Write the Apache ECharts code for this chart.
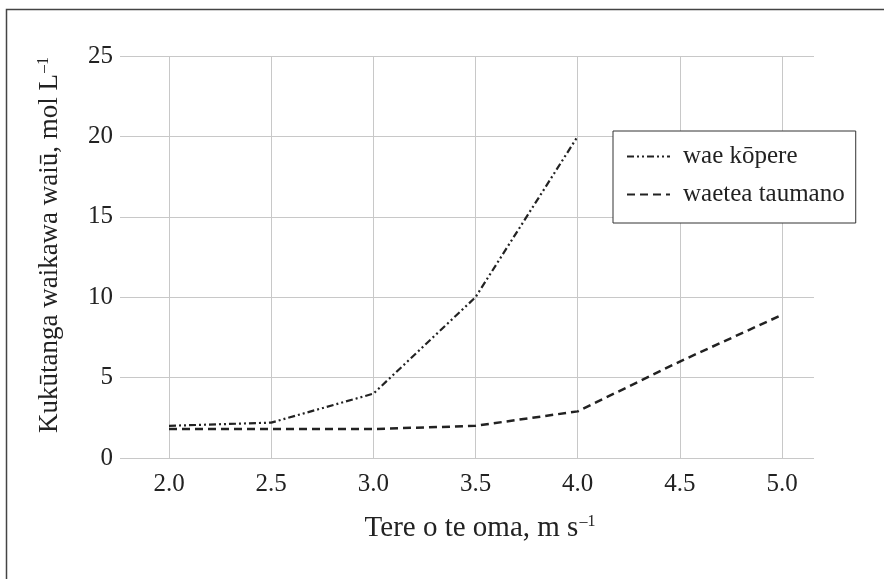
<!DOCTYPE html>
<html>
<head>
<meta charset="utf-8">
<script src="https://cdn.jsdelivr.net/npm/echarts@6/dist/echarts.min.js"></script>
<style>
  html, body { margin: 0; padding: 0; background: #fff; }
  #chart { width: 884px; height: 579px; }
</style>
</head>
<body>
<div id="chart"></div>
<script>
// data
var speeds = [2.0, 2.5, 3.0, 3.5, 4.0, 4.5, 5.0]
var waeKopere = [2.0, 2.2, 4.0, 10.0, 20.0, null, null]
var waeteaTaumano = [1.8, 1.8, 1.8, 2.0, 2.9, 6.0, 8.9]
var yTicks = [0, 5, 10, 15, 20, 25]

function pairs(values) {
  var out = []
  for (var i = 0; i < speeds.length; i++) {
    if (values[i] != null) out.push([speeds[i], values[i]])
  }
  return out
}

var serif = '"Liberation Serif", "Times New Roman", serif'
var gridColor = '#c8c8c8'

var myChart = echarts.init(document.getElementById('chart'))

var option = {
  backgroundColor: '#ffffff',
  animation: false,
  textStyle: { fontFamily: serif },
  grid: [
    // horizontal gridlines run wider than the data area
    { left: 120, right: 70, top: 56, bottom: 121 },
    { left: 169, right: 102, top: 56, bottom: 121 }
  ],
  xAxis: [
    { gridIndex: 0, type: 'value', min: 0, max: 1, show: false },
    {
      gridIndex: 1,
      type: 'value',
      min: 2,
      max: 5,
      interval: 0.5,
      axisLine: { show: false },
      axisTick: { show: false },
      axisLabel: {
        fontFamily: serif,
        fontSize: 25,
        color: '#222',
        margin: 14,
        formatter: function (v) { return v.toFixed(1) }
      },
      splitLine: { show: true, lineStyle: { color: gridColor, width: 1 } }
    }
  ],
  yAxis: [
    {
      gridIndex: 0,
      type: 'value',
      min: yTicks[0],
      max: yTicks[yTicks.length - 1],
      interval: 5,
      axisLine: { show: false },
      axisTick: { show: false },
      axisLabel: { fontFamily: serif, fontSize: 25, color: '#222', margin: 7 },
      splitLine: { show: true, lineStyle: { color: gridColor, width: 1 } }
    },
    { gridIndex: 1, type: 'value', min: 0, max: 25, interval: 5, show: false }
  ],
  legend: {
    orient: 'vertical',
    left: 613,
    top: 131,
    padding: [13, 11, 16, 13],
    itemGap: 13,
    itemWidth: 43,
    itemHeight: 14,
    borderColor: '#333',
    borderWidth: 1,
    backgroundColor: '#fff',
    itemStyle: { opacity: 0 },
    textStyle: {
      fontFamily: serif,
      fontSize: 25,
      lineHeight: 25,
      color: '#222',
      padding: [0, 0, 0, 8]
    },
    data: ['wae kōpere', 'waetea taumano']
  },
  graphic: [
    {
      type: 'rect',
      silent: true,
      shape: { x: 6.5, y: 9.5, width: 900, height: 600 },
      style: { fill: 'none', stroke: '#444', lineWidth: 1.5 }
    },
    {
      type: 'text',
      x: 50,
      y: 245,
      rotation: Math.PI / 2,
      style: {
        text: 'Kukūtanga waikawa waiū, mol L{sup|–1}',
        font: '27px ' + serif,
        fill: '#222',
        align: 'center',
        verticalAlign: 'middle',
        rich: {
          sup: { fontSize: 16, fontFamily: serif, fill: '#222', padding: [0, 0, 12, 1] }
        }
      }
    },
    {
      type: 'text',
      x: 480,
      y: 528,
      style: {
        text: 'Tere o te oma, m s{sup|–1}',
        font: '29px ' + serif,
        fill: '#222',
        align: 'center',
        verticalAlign: 'middle',
        rich: {
          sup: { fontSize: 16, fontFamily: serif, fill: '#222', padding: [0, 0, 12, 1] }
        }
      }
    }
  ],
  series: [
    {
      name: 'wae kōpere',
      type: 'line',
      xAxisIndex: 1,
      yAxisIndex: 1,
      showSymbol: false,
      symbol: 'none',
      data: pairs(waeKopere),
      lineStyle: { color: '#222', width: 2.2, type: [7, 3, 2, 3, 2, 3] },
      itemStyle: { color: '#222' }
    },
    {
      name: 'waetea taumano',
      type: 'line',
      xAxisIndex: 1,
      yAxisIndex: 1,
      showSymbol: false,
      symbol: 'none',
      data: pairs(waeteaTaumano),
      lineStyle: { color: '#222', width: 2.5, type: [8, 5] },
      itemStyle: { color: '#222' }
    }
  ]
}

myChart.setOption(option)
</script>
</body>
</html>
